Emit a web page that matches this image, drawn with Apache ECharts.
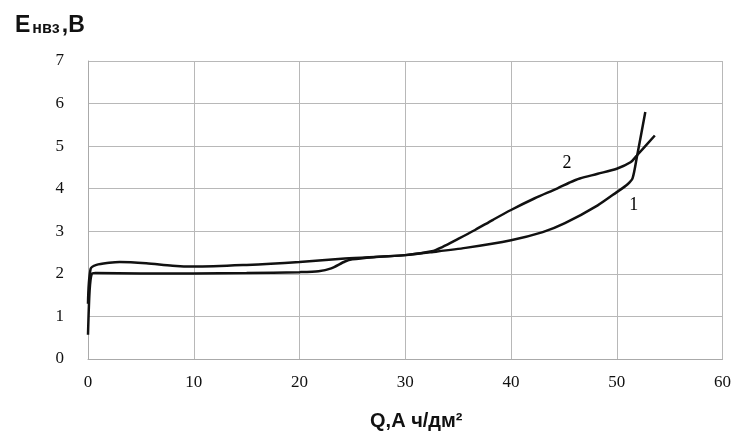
<!DOCTYPE html>
<html>
<head>
<meta charset="utf-8">
<script src="https://cdn.jsdelivr.net/npm/echarts@6/dist/echarts.min.js"></script>
<style>
  html, body { margin: 0; padding: 0; background: #fff; }
  #chart { width: 734px; height: 436px; }
</style>
</head>
<body>
<div id="chart"></div>
<script>
// кривая 1 (нижняя, резкий подъём в конце)
var curve1 = [
  [0, 0.57], [0.15, 1.6], [0.35, 2.0], [0.7, 2.02], [5, 2.01], [10, 2.01],
  [15, 2.02], [20, 2.04], [21.8, 2.06], [23, 2.13], [24.3, 2.29], [25, 2.34],
  [27, 2.39], [30, 2.44], [32.5, 2.51], [35.7, 2.61], [40, 2.79], [43, 2.98],
  [45.1, 3.19], [48.2, 3.61], [50, 3.92], [51, 4.1], [51.5, 4.25],
  [51.9, 4.74], [52.7, 5.8]
];
// кривая 2 (верхняя)
var curve2 = [
  [0, 1.3], [0.25, 2.12], [0.8, 2.21], [2, 2.26], [3, 2.28], [5.5, 2.25],
  [8, 2.19], [10, 2.17], [15, 2.21], [20, 2.28], [24.3, 2.36], [30, 2.44],
  [32.5, 2.53], [33.5, 2.63], [35, 2.82], [36.6, 3.03], [38.3, 3.27],
  [40, 3.5], [42.2, 3.77], [44.4, 4.01], [45.5, 4.14], [46.5, 4.24],
  [48.2, 4.35], [50, 4.47], [51.3, 4.62], [51.9, 4.78], [53.6, 5.25]
];
// подписи кривых
var curveLabels = [
  { name: '1', value: [51.6, 3.61] },
  { name: '2', value: [45.3, 4.59] }
];
var xTicks = [0, 10, 20, 30, 40, 50, 60];
var yTicks = [0, 1, 2, 3, 4, 5, 6, 7];

var myChart = echarts.init(document.getElementById('chart'));
var serif = '"Liberation Serif", "DejaVu Serif", serif';
var sans = '"Liberation Sans", Arial, sans-serif';

var option = {
  backgroundColor: '#fff',
  animation: false,
  title: {
    left: 10,
    top: 9,
    text: '{e|E}{s|нвз}{e|,B}',
    textStyle: {
      rich: {
        e: { fontFamily: sans, fontWeight: 'bold', fontSize: 23, color: '#111' },
        s: { fontFamily: sans, fontWeight: 'bold', fontSize: 16, color: '#111', verticalAlign: 'bottom', padding: [0, 2, 0, 2] }
      }
    }
  },
  grid: { left: 88, right: 8, top: 61, bottom: 77 },
  xAxis: {
    type: 'value',
    min: xTicks[0],
    max: xTicks[xTicks.length - 1],
    interval: 10,
    name: 'Q,A ч/дм²',
    nameLocation: 'middle',
    nameGap: 52,
    nameTextStyle: { fontFamily: sans, fontWeight: 'bold', fontSize: 20, color: '#111', padding: [0, 0, 0, 22] },
    axisLine: { lineStyle: { color: '#aaa', width: 1 } },
    axisTick: { show: false },
    axisLabel: { fontFamily: serif, fontSize: 17, color: '#111', margin: 15 },
    splitLine: { show: true, lineStyle: { color: '#b8b8b8', width: 1 } }
  },
  yAxis: {
    type: 'value',
    min: yTicks[0],
    max: yTicks[yTicks.length - 1],
    interval: 1,
    axisLine: { show: true, lineStyle: { color: '#aaa', width: 1 } },
    axisTick: { show: false },
    axisLabel: { fontFamily: serif, fontSize: 17, color: '#111', margin: 24 },
    splitLine: { show: true, lineStyle: { color: '#b8b8b8', width: 1 } }
  },
  series: [
    {
      name: '1',
      type: 'line',
      data: curve1,
      showSymbol: false,
      smooth: 0.25,
      lineStyle: { color: '#111', width: 2.5 }
    },
    {
      name: '2',
      type: 'line',
      data: curve2,
      showSymbol: false,
      smooth: 0.3,
      lineStyle: { color: '#111', width: 2.5 }
    },
    {
      type: 'scatter',
      data: curveLabels,
      symbolSize: 1,
      itemStyle: { color: 'rgba(0,0,0,0)', opacity: 1 },
      label: {
        show: true,
        position: 'inside',
        formatter: '{b}',
        fontFamily: serif,
        fontSize: 18,
        color: '#000',
        opacity: 1
      }
    }
  ]
};
myChart.setOption(option);
</script>
</body>
</html>
